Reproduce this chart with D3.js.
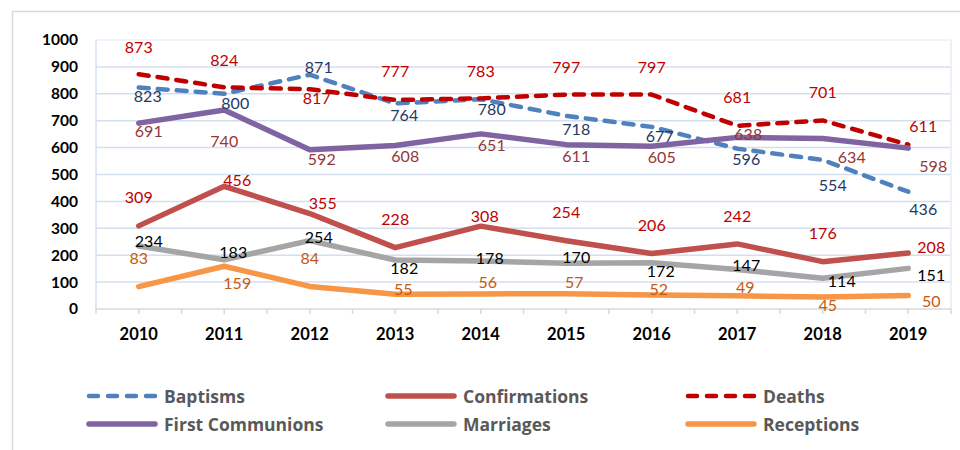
<!DOCTYPE html>
<html>
<head>
<meta charset="utf-8">
<script src="https://cdn.jsdelivr.net/npm/d3@7"></script>
<style>
  html, body { margin: 0; padding: 0; background: #fff; }
  svg { display: block; font-family: Lato, "Open Sans", sans-serif; }
</style>
</head>
<body>
<svg id="chart" width="960" height="450"></svg>
<script>
// Chart data
const years = ["2010", "2011", "2012", "2013", "2014", "2015", "2016", "2017", "2018", "2019"];
const yTicks = [0, 100, 200, 300, 400, 500, 600, 700, 800, 900, 1000];
const baptisms = [823, 800, 871, 764, 780, 718, 677, 596, 554, 436];
const confirmations = [309, 456, 355, 228, 308, 254, 206, 242, 176, 208];
const deaths = [873, 824, 817, 777, 783, 797, 797, 681, 701, 611];
const firstCommunions = [691, 740, 592, 608, 651, 611, 605, 638, 634, 598];
const marriages = [234, 183, 254, 182, 178, 170, 172, 147, 114, 151];
const receptions = [83, 159, 84, 55, 56, 57, 52, 49, 45, 50];

// Hand placed data label offsets (px from point), like the original workbook
const baptismsLabelPos = [[9, 8], [11, 9], [9, -8], [9, 11], [11, 9], [10, 13], [8, 9], [9, 10], [10, 25], [15, 17]];
const confirmationsLabelPos = [[0, -29], [13, -7], [13, -11], [0, -29], [4, -11], [0, -29], [0, -29], [0, -28], [0, -29], [23, -7]];
const deathsLabelPos = [[0, -28], [0, -28], [7, 8], [0, -29], [0, -28], [0, -28], [0, -28], [0, -29], [0, -29], [15, -19]];
const firstCommunionsLabelPos = [[10, 7], [0, 31], [12, 9], [10, 10], [11, 11], [10, 11], [10, 10], [11, -4], [29, 18], [25, 17]];
const marriagesLabelPos = [[10, -6], [9, -8], [9, -4], [9, 7], [9, -4], [10, -7], [9, 8], [9, -5], [19, 2], [23, 6]];
const receptionsLabelPos = [[0, -29], [13, 16], [0, -29], [8, -6], [7, -12], [8, -12], [7, -7], [8, -9], [5, 8], [23, 5]];

const series = [
  { name: "Baptisms", values: baptisms, labels: baptismsLabelPos, color: "#4f81bd", text: "#1f3864", dash: true },
  { name: "Confirmations", values: confirmations, labels: confirmationsLabelPos, color: "#c0504d", text: "#c00000", dash: false },
  { name: "Deaths", values: deaths, labels: deathsLabelPos, color: "#c00000", text: "#c00000", dash: true },
  { name: "First Communions", values: firstCommunions, labels: firstCommunionsLabelPos, color: "#8064a2", text: "#953735", dash: false },
  { name: "Marriages", values: marriages, labels: marriagesLabelPos, color: "#a5a5a5", text: "#000000", dash: false },
  { name: "Receptions", values: receptions, labels: receptionsLabelPos, color: "#f79646", text: "#c55a11", dash: false }
];

const svg = d3.select("#chart");

// outer chart border
svg.append("rect")
  .attr("x", 12.5).attr("y", 11.5)
  .attr("width", 960).attr("height", 460)
  .attr("fill", "#fff")
  .attr("stroke", "#d9d9d9").attr("stroke-width", 1.5);

const plot = { left: 96, right: 951, top: 40, bottom: 309 };

const x = d3.scaleBand().domain(years).range([plot.left, plot.right]);
const y = d3.scaleLinear().domain([0, 1000]).range([plot.bottom, plot.top]);
const cx = d => x(d) + x.bandwidth() / 2;

// gridlines
svg.append("g")
  .selectAll("line")
  .data(yTicks.filter(t => t > 0))
  .join("line")
  .attr("x1", plot.left).attr("x2", plot.right)
  .attr("y1", d => y(d)).attr("y2", d => y(d))
  .attr("stroke", d => d === 1000 ? "#eaf0f8" : "#d3dfef")
  .attr("stroke-width", 1.5);

// plot frame sides
svg.append("line")
  .attr("x1", plot.left).attr("x2", plot.left)
  .attr("y1", plot.top).attr("y2", plot.bottom)
  .attr("stroke", "#d3dfef").attr("stroke-width", 1.5);
svg.append("line")
  .attr("x1", plot.right).attr("x2", plot.right)
  .attr("y1", plot.top).attr("y2", plot.bottom)
  .attr("stroke", "#e6edf7").attr("stroke-width", 1.5);

// y axis labels
const yAxis = d3.axisLeft(y).tickValues(yTicks).tickFormat(d3.format("d")).tickSize(0).tickPadding(18);
svg.append("g")
  .attr("transform", `translate(${plot.left},0)`)
  .call(yAxis)
  .call(g => g.select(".domain").remove())
  .selectAll("text")
  .attr("font-family", "Lato, sans-serif")
  .attr("font-size", 15.5)
  .attr("font-weight", "bold")
  .attr("fill", "#000");

// x axis: ticks at band edges and centres
const xTickPos = d3.range(years.length * 2 + 1).map(i => plot.left + i * x.bandwidth() / 2);
const xg = svg.append("g");
xg.append("line")
  .attr("x1", plot.left).attr("x2", plot.right)
  .attr("y1", plot.bottom).attr("y2", plot.bottom)
  .attr("stroke", "#d9d9d9").attr("stroke-width", 1.5);
xg.selectAll("line.tick")
  .data(xTickPos)
  .join("line")
  .attr("class", "tick")
  .attr("x1", d => d).attr("x2", d => d)
  .attr("y1", plot.bottom).attr("y2", plot.bottom + 5)
  .attr("stroke", "#d9d9d9").attr("stroke-width", 1.5);
xg.selectAll("text")
  .data(years)
  .join("text")
  .attr("x", d => cx(d))
  .attr("y", 334)
  .attr("text-anchor", "middle")
  .attr("dominant-baseline", "central")
  .attr("font-size", 16.5)
  .attr("font-weight", "bold")
  .attr("fill", "#000")
  .text(d => d);

// lines
const line = d3.line()
  .x((d, i) => cx(years[i]))
  .y(d => y(d));

svg.append("g")
  .selectAll("path")
  .data(series)
  .join("path")
  .attr("d", s => line(s.values))
  .attr("fill", "none")
  .attr("stroke", s => s.color)
  .attr("stroke-width", s => s.dash ? 4.5 : 5.5)
  .attr("stroke-linecap", "round")
  .attr("stroke-linejoin", "round")
  .attr("stroke-dasharray", s => s.dash ? "10,9" : null);

// data labels
const labels = svg.append("g");
series.forEach(s => {
  labels.append("g")
    .selectAll("text")
    .data(s.values)
    .join("text")
    .attr("x", (d, i) => cx(years[i]) + s.labels[i][0])
    .attr("y", (d, i) => y(d) + s.labels[i][1])
    .attr("text-anchor", "middle")
    .attr("dominant-baseline", "central")
    .attr("font-size", 16)
    .attr("fill", s.text)
    .text(d => d);
});

// legend
const legendCols = [87, 386, 686];
const legendRows = [396, 424];
const legend = svg.append("g")
  .selectAll("g")
  .data(series)
  .join("g")
  .attr("transform", (s, i) => `translate(${legendCols[i % 3]},${legendRows[Math.floor(i / 3)]})`);

legend.append("line")
  .attr("x1", 2).attr("x2", 68)
  .attr("y1", 0).attr("y2", 0)
  .attr("stroke", s => s.color)
  .attr("stroke-width", s => s.dash ? 4.5 : 5.5)
  .attr("stroke-linecap", "round")
  .attr("stroke-dasharray", s => s.dash ? "9,10" : null);

legend.append("text")
  .attr("x", 77)
  .attr("y", 0)
  .attr("dominant-baseline", "central")
  .attr("font-family", "'Open Sans', sans-serif")
  .attr("font-size", 17.5)
  .attr("font-weight", "bold")
  .attr("fill", "#595959")
  .text(s => s.name);
</script>
</body>
</html>
